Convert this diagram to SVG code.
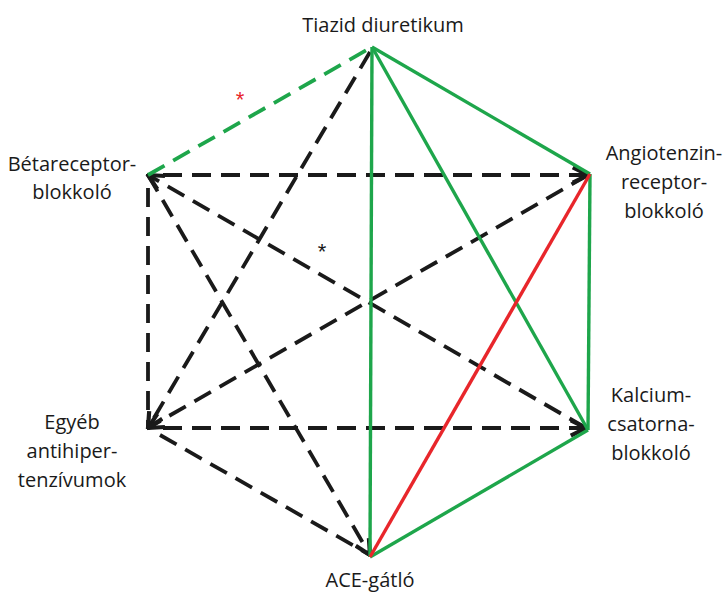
<svg xmlns="http://www.w3.org/2000/svg" width="727" height="593" viewBox="0 0 727 593">
  <style>
    .lbl { font-family: "Open Sans", "Liberation Sans", sans-serif; font-size: 20px; fill: #1a1a1a; text-anchor: middle; }
    .dash { stroke: #1a1a1a; stroke-width: 3.8; stroke-dasharray: 19 10; fill: none; }
    .gdash { stroke: #1ea64b; stroke-width: 3.8; stroke-dasharray: 19 10; fill: none; }
    .green { stroke: #1ea64b; stroke-width: 3.4; fill: none; }
    .red { stroke: #e8262b; stroke-width: 3.4; fill: none; }
    .star { font-family: "Liberation Sans", sans-serif; font-size: 22px; text-anchor: middle; }
  </style>
  <defs>
    <marker id="chev" viewBox="0 0 10 10" refX="9" refY="5" markerWidth="5" markerHeight="5" orient="auto" markerUnits="strokeWidth">
      <path d="M1,1 L9,5 L1,9" fill="none" stroke="#1a1a1a" stroke-width="2.2"/>
    </marker>
  </defs>

  <!-- connectors -->
  <g id="connectors">
    <!-- dashed black: no particular interaction -->
    <line class="dash" x1="163" y1="175" x2="588" y2="175" marker-end="url(#chev)"/>
    <line class="dash" x1="163" y1="428" x2="586" y2="428" marker-end="url(#chev)"/>
    <line class="dash" x1="148" y1="188" x2="148" y2="428"/>
    <line class="dash" x1="586" y1="428" x2="148" y2="175" marker-end="url(#chev)"/>
    <line class="dash" x1="588" y1="175" x2="148" y2="428" marker-end="url(#chev)"/>
    <line class="dash" x1="370" y1="52" x2="148" y2="428" marker-end="url(#chev)"/>
    <line class="dash" x1="148" y1="175" x2="370" y2="555" marker-end="url(#chev)"/>
    <line class="dash" x1="160" y1="435" x2="370" y2="555"/>
    <!-- dashed green -->
    <line class="gdash" x1="148" y1="175" x2="372" y2="47"/>
    <!-- solid green -->
    <line class="green" x1="372" y1="47" x2="370" y2="557"/>
    <line class="green" x1="372" y1="47" x2="590" y2="174"/>
    <line class="green" x1="372" y1="47" x2="588" y2="430"/>
    <line class="green" x1="590" y1="174" x2="588" y2="430"/>
    <line class="green" x1="588" y1="430" x2="370" y2="557"/>
    <!-- solid red -->
    <line class="red" x1="590" y1="174" x2="370" y2="557"/>
  </g>

  <text class="star" x="240" y="107" fill="#e8262b">*</text>
  <text class="star" x="322" y="259" fill="#1a1a1a">*</text>

  <g id="tiazid">
    <text class="lbl" x="383" y="32">Tiazid diuretikum</text>
  </g>
  <g id="beta">
    <text class="lbl" x="72" y="171">Bétareceptor-</text>
    <text class="lbl" x="72" y="199">blokkoló</text>
  </g>
  <g id="angiotenzin">
    <text class="lbl" x="664" y="160">Angiotenzin-</text>
    <text class="lbl" x="664" y="189">receptor-</text>
    <text class="lbl" x="664" y="218">blokkoló</text>
  </g>
  <g id="egyeb">
    <text class="lbl" x="72" y="429">Egyéb</text>
    <text class="lbl" x="72" y="458">antihiper-</text>
    <text class="lbl" x="72" y="487">tenzívumok</text>
  </g>
  <g id="kalcium">
    <text class="lbl" x="651" y="402">Kalcium-</text>
    <text class="lbl" x="651" y="431">csatorna-</text>
    <text class="lbl" x="651" y="460">blokkoló</text>
  </g>
  <g id="ace">
    <text class="lbl" x="370" y="587">ACE-gátló</text>
  </g>
</svg>
